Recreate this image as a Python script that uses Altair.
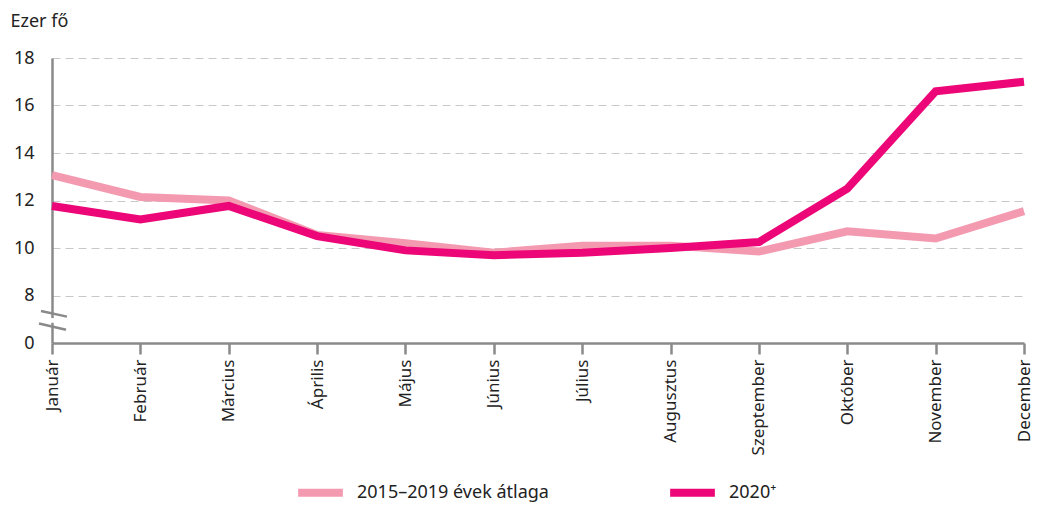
import altair as alt
import pandas as pd

months = ["Január", "Február", "Március", "Április", "Május", "Június",
          "Július", "Augusztus", "Szeptember", "Október", "November", "December"]
avg_2015_2019 = [13.07, 12.15, 12.0, 10.55, 10.2, 9.8, 10.1, 10.1, 9.85, 10.7, 10.4, 11.55]
y2020 = [11.77, 11.2, 11.77, 10.5, 9.9, 9.7, 9.8, 10.0, 10.25, 12.5, 16.6, 17.0]
series_names = ["2015–2019 évek átlaga", "2020⁺"]
series_colors = ["#F49AB0", "#EC0677"]

rows = []
for m, a, b in zip(months, avg_2015_2019, y2020):
    rows.append({"month": m, "series": series_names[0], "value": a})
    rows.append({"month": m, "series": series_names[1], "value": b})
df = pd.DataFrame(rows)

FONT = "Noto Sans"
AXIS_COLOR = "#8a8a8a"

x_enc = alt.X("month:N", sort=months,
              scale=alt.Scale(type="point", padding=0),
              axis=alt.Axis(title=None, labelAngle=-90, labelAlign="right",
                            labelBaseline="middle", labelPadding=5,
                            labelFontSize=17, labelColor="#222",
                            domainColor=AXIS_COLOR, domainWidth=2.5,
                            tickColor=AXIS_COLOR, tickWidth=2.5, tickSize=11,
                            grid=False))
y_enc = alt.Y("value:Q",
              scale=alt.Scale(domain=[6, 18], nice=False, zero=False),
              axis=alt.Axis(values=[6, 8, 10, 12, 14, 16, 18],
                            labelExpr="datum.value == 6 ? '0' : datum.label",
                            title="Ezer fő", titleAngle=0, titleAlign="left",
                            titleBaseline="alphabetic", titleX=-42, titleY=-32,
                            titleFontSize=18, titleFontWeight="normal", titleColor="#222",
                            labelFontSize=18, labelColor="#222", labelPadding=18,
                            ticks=False, domainColor=AXIS_COLOR, domainWidth=2.5,
                            grid=True, gridDash=[8, 5], gridColor="#c8c8c8", gridWidth=1))

lines = alt.Chart(df).mark_line(strokeWidth=8, strokeCap="butt", strokeJoin="miter").encode(
    x=x_enc,
    y=y_enc,
    color=alt.Color("series:N", sort=series_names,
                    scale=alt.Scale(domain=series_names, range=series_colors),
                    legend=alt.Legend(title=None, orient="none", legendX=242, legendY=408,
                                      direction="horizontal", symbolType="stroke",
                                      symbolSize=2000, symbolStrokeWidth=8,
                                      labelFontSize=18, labelColor="#222", labelLimit=400,
                                      labelOffset=10, columnPadding=105)),
    order=alt.Order("series:N"),
)

# axis break marks
gap = alt.Chart(pd.DataFrame({"a": [0]})).mark_rect(color="white").encode(
    x=alt.value(-3), x2=alt.value(3), y=alt.datum(7.05), y2=alt.datum(6.85))
slash1 = alt.Chart(pd.DataFrame({"a": [0]})).mark_rule(color=AXIS_COLOR, strokeWidth=2.5).encode(
    x=alt.value(-11), x2=alt.value(15), y=alt.datum(7.35), y2=alt.datum(7.11))
slash2 = alt.Chart(pd.DataFrame({"a": [0]})).mark_rule(color=AXIS_COLOR, strokeWidth=2.5).encode(
    x=alt.value(-13), x2=alt.value(14), y=alt.datum(6.82), y2=alt.datum(6.56))

chart = alt.layer(lines, gap, slash1, slash2).properties(
    width=972, height=285,
    autosize=alt.AutoSizeParams(type="none"),
    padding={"left": 44, "top": 50, "right": 10, "bottom": 159},
).configure(font=FONT).configure_view(stroke=None)

chart.save("out.html", embed_options={"renderer": "svg", "actions": False})
